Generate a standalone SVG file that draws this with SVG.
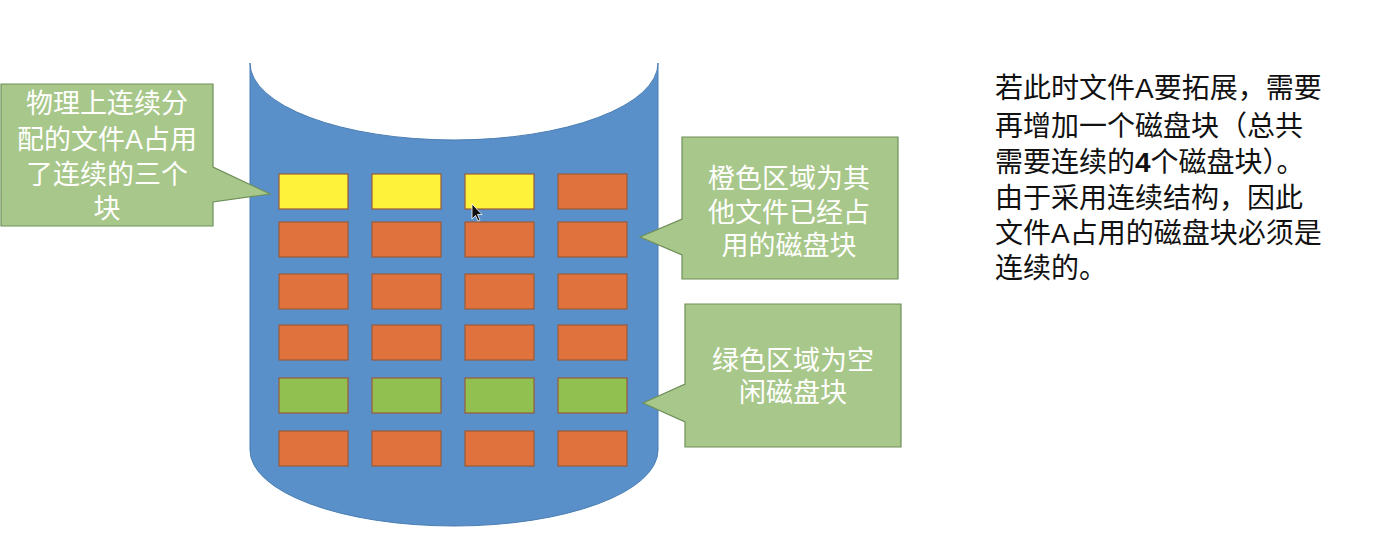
<svg xmlns="http://www.w3.org/2000/svg" width="1387" height="550" viewBox="0 0 1387 550">
<style>
.blk{stroke:#9a5a3a;stroke-width:1.2}
.y{fill:#FFF23A}
.o{fill:#E0733D}
.g{fill:#92C050}
.call{fill:#A8C78A;stroke:#6E8F5A;stroke-width:1.2}
.ct{font-family:"Liberation Sans","Noto Sans CJK SC",sans-serif;font-size:27px;fill:#ffffff;text-anchor:middle}
.bt{font-family:"Liberation Sans","Noto Sans CJK SC",sans-serif;font-size:28px;fill:#111111}
</style>
<rect width="1387" height="550" fill="#ffffff"/>
<g id="disk">
<path d="M250,63 A204,77 0 0 0 658,63 L658,450 A204,76 0 0 1 250,450 Z" fill="#5990C9" stroke="#4A7DB2" stroke-width="1"/>
</g>
<g id="blocks">
<rect class="blk y" x="279" y="174" width="69" height="35"/>
<rect class="blk y" x="372" y="174" width="69" height="35"/>
<rect class="blk y" x="465" y="174" width="69" height="35"/>
<rect class="blk o" x="558" y="174" width="69" height="35"/>
<rect class="blk o" x="279" y="222" width="69" height="35"/>
<rect class="blk o" x="372" y="222" width="69" height="35"/>
<rect class="blk o" x="465" y="222" width="69" height="35"/>
<rect class="blk o" x="558" y="222" width="69" height="35"/>
<rect class="blk o" x="279" y="274" width="69" height="35"/>
<rect class="blk o" x="372" y="274" width="69" height="35"/>
<rect class="blk o" x="465" y="274" width="69" height="35"/>
<rect class="blk o" x="558" y="274" width="69" height="35"/>
<rect class="blk o" x="279" y="325" width="69" height="35"/>
<rect class="blk o" x="372" y="325" width="69" height="35"/>
<rect class="blk o" x="465" y="325" width="69" height="35"/>
<rect class="blk o" x="558" y="325" width="69" height="35"/>
<rect class="blk g" x="279" y="378" width="69" height="35"/>
<rect class="blk g" x="372" y="378" width="69" height="35"/>
<rect class="blk g" x="465" y="378" width="69" height="35"/>
<rect class="blk g" x="558" y="378" width="69" height="35"/>
<rect class="blk o" x="279" y="431" width="69" height="35"/>
<rect class="blk o" x="372" y="431" width="69" height="35"/>
<rect class="blk o" x="465" y="431" width="69" height="35"/>
<rect class="blk o" x="558" y="431" width="69" height="35"/>
</g>
<g id="callout-left">
<path class="call" d="M1,84 H213 V167 L270,194 L213,202 V226 H1 Z"/>
<text class="ct" x="107" y="113">物理上连续分</text>
<text class="ct" x="107" y="149">配的文件A占用</text>
<text class="ct" x="107" y="184">了连续的三个</text>
<text class="ct" x="107" y="218">块</text>
</g>
<g id="callout-orange">
<path class="call" d="M682,137 H898 V279 H682 V255 L640,237 L682,219 Z"/>
<text class="ct" x="789" y="188">橙色区域为其</text>
<text class="ct" x="789" y="222">他文件已经占</text>
<text class="ct" x="789" y="255">用的磁盘块</text>
</g>
<g id="callout-green">
<path class="call" d="M685,304 H901 V447 H685 V422 L643,403 L685,384 Z"/>
<text class="ct" x="793" y="370">绿色区域为空</text>
<text class="ct" x="793" y="402">闲磁盘块</text>
</g>
<g id="note">
<text class="bt" x="995" y="98">若此时文件A要拓展，需要</text>
<text class="bt" x="995" y="136">再增加一个磁盘块（总共</text>
<text class="bt" x="995" y="172">需要连续的<tspan font-weight="bold">4</tspan>个磁盘块）。</text>
<text class="bt" x="995" y="208">由于采用连续结构，因此</text>
<text class="bt" x="995" y="243">文件A占用的磁盘块必须是</text>
<text class="bt" x="995" y="278">连续的。</text>
</g>
<g id="cursor">
<path d="M472,204 L472,219 L475.5,215.5 L478,221 L480,220 L477.5,214.5 L482,214.5 Z" fill="#111" stroke="#fff" stroke-width="0.8"/>
</g>
</svg>
